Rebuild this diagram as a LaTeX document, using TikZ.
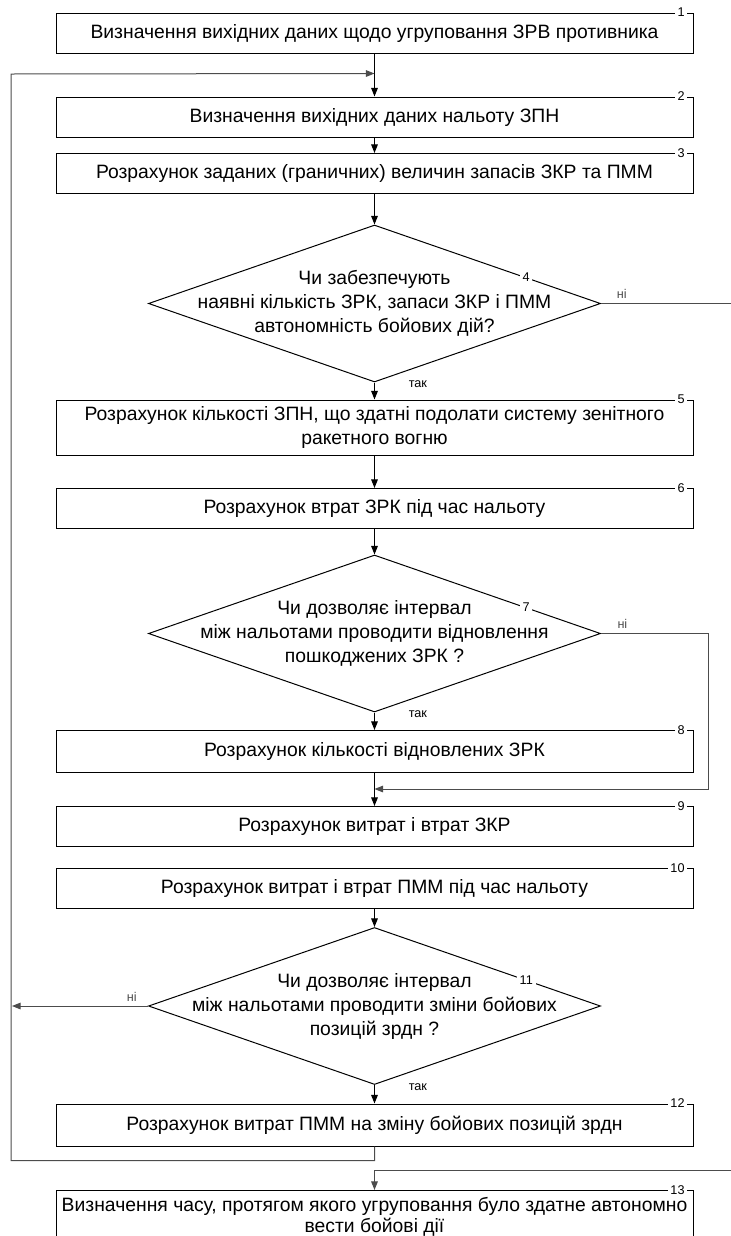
\documentclass[tikz,border=0pt]{standalone}
\usepackage{fontspec}
\setmainfont{Liberation Sans}
\usetikzlibrary{shapes.geometric,arrows.meta,calc}

\begin{document}
\begin{tikzpicture}[x=0.75pt,y=-0.75pt,
    blk/.style={draw,line width=0.75pt,minimum width=477.75pt,minimum height=30pt,inner sep=0pt,align=center,font=\fontsize{14.5}{18}\selectfont},
    cond/.style={draw,diamond,line width=0.75pt,minimum width=339pt,minimum height=117.75pt,inner sep=0pt},
    ctext/.style={align=center,font=\fontsize{14.5}{18}\selectfont},
    num/.style={fill=white,inner sep=2pt,font=\fontsize{9.5}{11}\selectfont},
    lbl/.style={font=\fontsize{9.5}{11}\selectfont},
    arr/.style={-{Triangle[length=6.5pt,width=5pt]},line width=0.75pt},
    back/.style={line width=1.1pt,black!70}]
  \clip (0,0) rectangle (731,1236);

  % blocks
  \node[blk] (b1) at (374.5,33) {Визначення вихідних даних щодо угруповання ЗРВ противника};
  \node[blk] (b2) at (374.5,117) {Визначення вихідних даних нальоту ЗПН};
  \node[blk] (b3) at (374.5,173.5) {Розрахунок заданих (граничних) величин запасів ЗКР та ПММ};
  \node[cond] (q4) at (374.5,303.5) {};
  \node[ctext] (t4) at (q4) {Чи забезпечують\\наявні кількість ЗРК, запаси ЗКР і ПММ\\автономність бойових дій?};
  \node[blk,minimum height=41.25pt] (b5) at (374.5,427.5) {Розрахунок кількості ЗПН, що здатні подолати систему зенітного\\ракетного вогню};
  \node[blk] (b6) at (374.5,508.5) {Розрахунок втрат ЗРК під час нальоту};
  \node[cond] (q7) at (374.5,633.5) {};
  \node[ctext] (t7) at (q7) {Чи дозволяє інтервал\\між нальотами проводити відновлення\\пошкоджених ЗРК ?};
  \node[blk,minimum height=31.5pt] (b8) at (374.5,751.5) {Розрахунок кількості відновлених ЗРК};
  \node[blk] (b9) at (374.5,826.5) {Розрахунок витрат і втрат ЗКР};
  \node[blk] (b10) at (374.5,888.5) {Розрахунок витрат і втрат ПММ під час нальоту};
  \node[cond] (q11) at (374.5,1006) {};
  \node[ctext] (t11) at (q11) {Чи дозволяє інтервал\\між нальотами проводити зміни бойових\\позицій зрдн ?};
  \node[blk,minimum height=31.5pt] (b12) at (374.5,1125) {Розрахунок витрат ПММ на зміну бойових позицій зрдн};
  \node[blk,minimum height=39pt,anchor=north,font=\fontsize{14.5}{16}\selectfont] (b13) at (374.5,1190) {Визначення часу, протягом якого угруповання було здатне автономно\\вести бойові дії};

  % numbers
  \foreach \b/\n in {b1/1,b2/2,b3/3,b5/5,b6/6,b8/8,b9/9,b10/10,b12/12,b13/13}
    \node[num,anchor=east] (n\n) at ($(\b.north east)+(-6,0)$) {\n};
  \foreach \q/\n in {q4/4,q7/7,q11/11}
    \node[num] (n\n) at ($(\q.north)!0.67!(\q.east)$) {\n};

  \coordinate (j2) at ($(b2.north)+(0,-23)$);
  \coordinate (j9) at ($(b9.north)+(0,-17)$);
  \coordinate (j13) at ($(b13.north)+(0,-20)$);
  \coordinate (c1) at (11,74);
  \coordinate (c4) at (760,303.5);
  \coordinate (c7) at (708,633.5);
  \coordinate (c11) at (12,1006);

  % connectors
  \draw[arr] (b1) -- (b2);
  \draw[arr] (b2) -- (b3);
  \draw[arr] (b3) -- (q4);
  \draw[arr] (q4) -- node[lbl,right=22pt,pos=0.1] {так} (b5);
  \draw[back,arr] (q4.east) -- node[lbl,above,pos=0.13] {ні} (c4) |- (j13) -- (b13.north);
  \draw[arr] (b5) -- (b6);
  \draw[arr] (b6) -- (q7);
  \draw[arr] (q7) -- node[lbl,right=22pt,pos=0.1] {так} (b8);
  \draw[back,arr] (q7.east) -- node[lbl,above,pos=0.2] {ні} (c7) |- (j9);
  \draw[arr] (b8) -- (b9);
  \draw[arr] (b10) -- (q11);
  \draw[back,arr] (q11.west) -- node[lbl,above,pos=0.12] {ні} (c11);
  \draw[arr] (q11) -- node[lbl,right=22pt,pos=0.1] {так} (b12);
  \draw[back,arr] (b12.south) -- ++(0,14) -| (c1) -- (j2);
\end{tikzpicture}
\end{document}
